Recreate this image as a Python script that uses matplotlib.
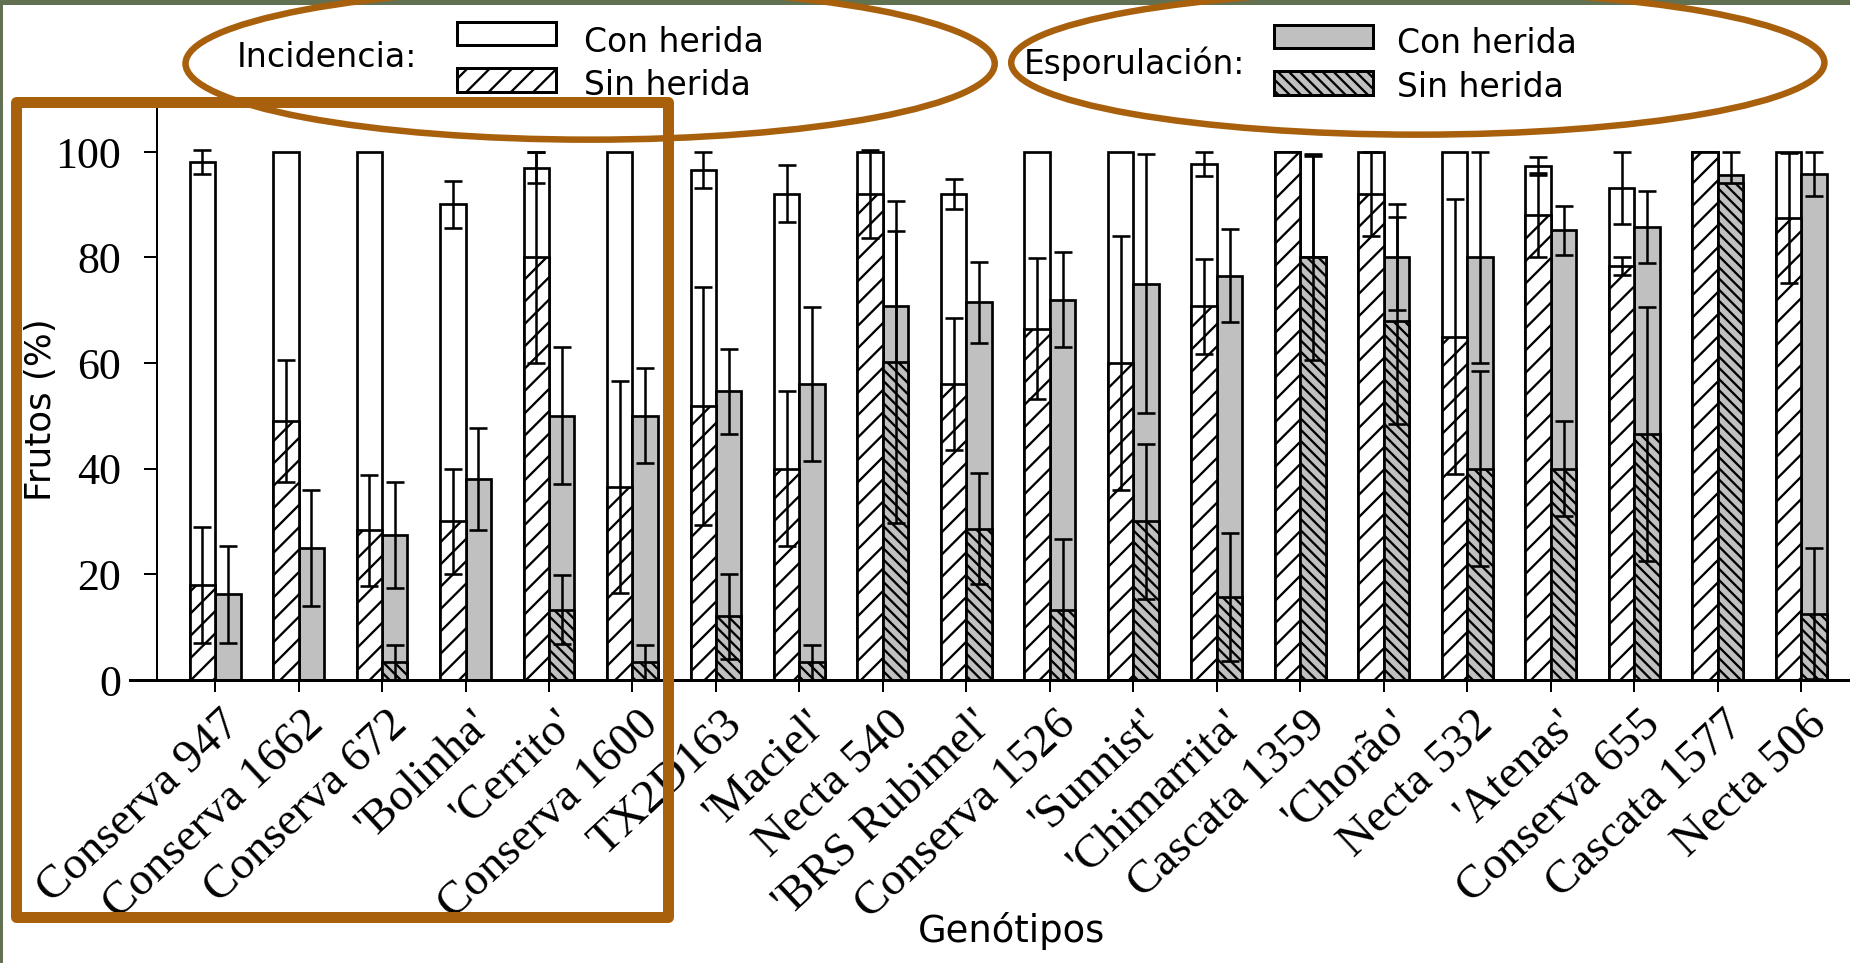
import matplotlib
matplotlib.use("Agg")
import matplotlib.pyplot as plt
import matplotlib.transforms as mtransforms
from matplotlib.patches import Ellipse, Rectangle
import numpy as np

# ---------------- data ----------------
genotipos = ["Conserva 947", "Conserva 1662", "Conserva 672", "'Bolinha'", "'Cerrito'",
             "Conserva 1600", "TX2D163", "'Maciel'", "Necta 540", "'BRS Rubimel'",
             "Conserva 1526", "'Sunnist'", "'Chimarrita'", "Cascata 1359", "'Chorão'",
             "Necta 532", "'Atenas'", "Conserva 655", "Cascata 1577", "Necta 506"]

inc_con = [98, 100, 100, 90, 97, 100, 96.5, 92, 100, 92, 100, 100, 97.7, 100, 100, 100, 97.2, 93.2, 100, 100]
inc_con_err = [2.3, 0, 0, 4.4, 2.9, 0, 3.4, 5.4, 0, 2.9, 0, 0, 2.3, 0, 0, 0, 1.7, 6.8, 0, 0]
inc_sin = [18, 49, 28.3, 30, 80, 36.5, 51.8, 40, 92, 56, 66.5, 60, 70.7, 100, 92, 65, 88, 78.3, 100, 87.5]
inc_sin_err = [11, 11.5, 10.5, 10, 20, 20, 22.5, 14.6, 8.3, 12.5, 13.3, 24, 9, 0, 8, 26, 8, 1.7, 0, 12.3]
esp_con = [16.2, 25, 27.4, 38, 50, 50, 54.6, 56, 70.7, 71.5, 72, 75, 76.5, 80, 80, 80, 85.1, 85.7, 95.6, 95.8]
esp_con_err = [9.2, 11, 10, 9.6, 13, 9, 8, 14.5, 14.3, 7.7, 9, 24.5, 8.8, 19.2, 10, 20, 4.6, 6.8, 4.4, 4.2]
esp_sin = [0, 0, 3.3, 0, 13.3, 3.3, 12, 3.3, 60.2, 28.6, 13.3, 30, 15.7, 80, 68, 40, 40, 46.6, 94.1, 12.5]
esp_sin_err = [0, 0, 3.3, 0, 6.6, 3.3, 8, 3.3, 30.5, 10.5, 13.3, 14.6, 12.2, 19.5, 19.6, 18.5, 9, 24, 0, 12.4]

yticks = [0, 20, 40, 60, 80, 100]

# ---------------- style ----------------
DPI = 134
W, H = 1850, 963


def pt(px):
    """pixels -> points at the figure dpi"""
    return px * 72.0 / DPI


plt.rcParams["font.family"] = ["DejaVu Sans"]
plt.rcParams["hatch.linewidth"] = pt(2.3)
plt.rcParams["hatch.color"] = "black"

BROWN = "#A8600C"
BORDER = "#637153"
GRAY = "#C0C0C0"
SERIF = ["Liberation Serif", "DejaVu Serif"]
HATCH_INC = "//"
HATCH_ESP = "\\" * 4

fig = plt.figure(figsize=((W + 0.4) / DPI, (H + 0.4) / DPI), dpi=DPI)
fig.patch.set_facecolor("white")

# axes geometry (pixels)
x0_px, spacing_px = 215.0, 83.47
ax_left_px, ax_right_px = 130.0, 1850.0
y0_px, ytop_px = 680.0, 108.0
px_per_unit = 5.28

xmin = (ax_left_px - x0_px) / spacing_px
xmax = (ax_right_px - x0_px) / spacing_px
ymax = (y0_px - ytop_px) / px_per_unit

ax = fig.add_axes([ax_left_px / W, 1 - y0_px / H, (ax_right_px - ax_left_px) / W, (y0_px - ytop_px) / H])
ax.set_xlim(xmin, xmax)
ax.set_ylim(0, ymax)
ax.patch.set_alpha(0)

x = np.arange(len(genotipos))
bw = 0.305
EDGE = pt(2.7)


def errs(xs, ys, es, z):
    xs = np.asarray(xs); ys = np.asarray(ys); es = np.asarray(es)
    m = es > 0
    ax.errorbar(xs[m], ys[m], yerr=es[m], fmt="none", ecolor="black",
                elinewidth=pt(2.5), capsize=pt(8.6), capthick=pt(2.6), zorder=z)


xl = x - bw / 2
xr = x + bw / 2
# Incidencia
ax.bar(xl, inc_con, width=bw, facecolor="white", edgecolor="black", linewidth=EDGE, zorder=2)
errs(xl, inc_con, inc_con_err, 3)
ax.bar(xl, inc_sin, width=bw, facecolor="white", edgecolor="black", linewidth=EDGE, hatch=HATCH_INC, zorder=4)
errs(xl, inc_sin, inc_sin_err, 5)
# Esporulacion
ax.bar(xr, esp_con, width=bw, facecolor=GRAY, edgecolor="black", linewidth=EDGE, zorder=2)
errs(xr, esp_con, esp_con_err, 3)
esp_sin_arr = np.asarray(esp_sin)
msk = esp_sin_arr > 0
ax.bar(xr[msk], esp_sin_arr[msk], width=bw, facecolor=GRAY, edgecolor="black", linewidth=EDGE,
       hatch=HATCH_ESP, zorder=4)
errs(xr, esp_sin, esp_sin_err, 5)

# spines
for s in ["top", "right"]:
    ax.spines[s].set_visible(False)
ax.spines["left"].set_position(("data", (157 - x0_px) / spacing_px))
ax.spines["left"].set_linewidth(pt(2.0))
ax.spines["bottom"].set_linewidth(pt(3.0))
ax.spines["bottom"].set_zorder(6)

ax.set_yticks(yticks)
ax.set_yticklabels([str(v) for v in yticks], fontsize=pt(44), family=SERIF)
ax.tick_params(axis="y", direction="out", length=pt(13), width=pt(2.0), pad=pt(23))

ax.set_xticks(x)
ax.set_xticklabels(genotipos, rotation=43, ha="right", va="top", rotation_mode="anchor",
                   fontsize=pt(47), family=SERIF)
ax.tick_params(axis="x", direction="out", length=pt(12), width=pt(2.0), pad=pt(11))
offset = mtransforms.ScaledTranslation(5 / DPI, 0, fig.dpi_scale_trans)
for lbl in ax.get_xticklabels():
    lbl.set_transform(lbl.get_transform() + offset)

# ---------------- overlay (pixel coordinates) ----------------
ov = fig.add_axes([0, 0, 1, 1], zorder=10)
ov.set_xlim(0, W)
ov.set_ylim(H, 0)
ov.axis("off")

# frame of the slide
ov.add_patch(Rectangle((0, 0), W, 5, facecolor=BORDER, edgecolor="none"))
ov.add_patch(Rectangle((0, 0), 3.3, H, facecolor=BORDER, edgecolor="none"))

# axis titles
ov.text(41, 410, "Frutos (%)", rotation=90, ha="center", va="center", fontsize=pt(35.7))
ov.text(1011, 931, "Genótipos", ha="center", va="center", fontsize=pt(36.9))

# legends
LEG = pt(33)
ov.text(237, 67, "Incidencia:", ha="left", va="baseline", fontsize=pt(33.3))
ov.add_patch(Rectangle((457, 22), 99, 23, facecolor="white", edgecolor="black", linewidth=pt(3)))
ov.add_patch(Rectangle((457, 68), 99, 24, facecolor="white", edgecolor="black", linewidth=pt(3), hatch=HATCH_INC))
ov.text(584, 51.5, "Con herida", ha="left", va="baseline", fontsize=LEG)
ov.text(584, 95, "Sin herida", ha="left", va="baseline", fontsize=LEG)

ov.text(1024, 74, "Esporulación:", ha="left", va="baseline", fontsize=pt(32.8))
ov.add_patch(Rectangle((1274, 25), 99, 23, facecolor=GRAY, edgecolor="black", linewidth=pt(3)))
ov.add_patch(Rectangle((1274, 71), 99, 24, facecolor=GRAY, edgecolor="black", linewidth=pt(3), hatch=HATCH_ESP))
ov.text(1397, 53, "Con herida", ha="left", va="baseline", fontsize=LEG)
ov.text(1397, 97, "Sin herida", ha="left", va="baseline", fontsize=LEG)

# brown annotations
ov.add_patch(Ellipse((590, 64), 809, 152, facecolor="none", edgecolor=BROWN, linewidth=pt(6.5)))
ov.add_patch(Ellipse((1417.5, 63), 813, 144, facecolor="none", edgecolor=BROWN, linewidth=pt(6.5)))
ov.add_patch(Rectangle((16, 102.5), 652, 814.5, facecolor="none", edgecolor=BROWN,
                       linewidth=pt(11), joinstyle="round"))

fig.savefig("out.png", dpi=DPI, facecolor="white")
